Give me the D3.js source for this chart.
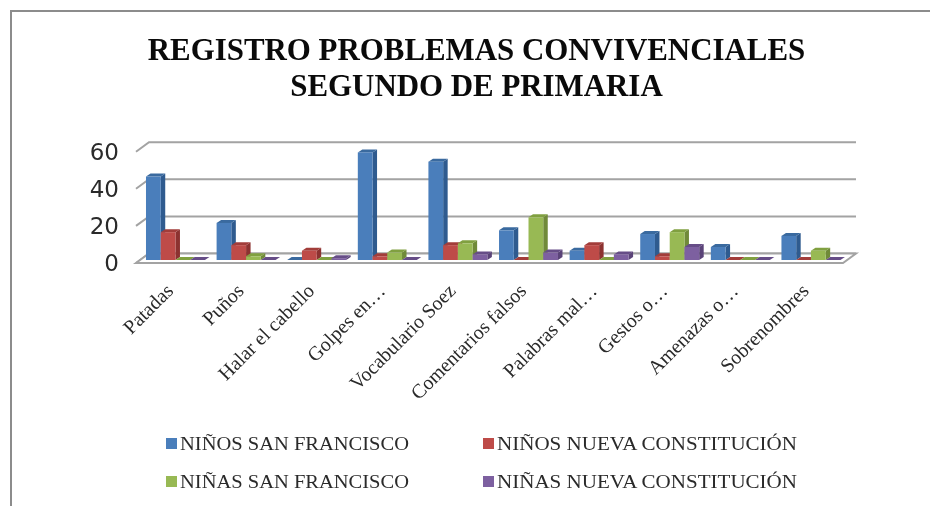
<!DOCTYPE html>
<html>
<head>
<meta charset="utf-8">
<script src="https://cdn.jsdelivr.net/npm/d3@7"></script>
<style>
    html, body { margin: 0; padding: 0; background: #fff; }
    svg { display: block; filter: blur(0.35px); }
</style>
</head>
<body>
<div id="chart"></div>
<script>
var categories = ["Patadas", "Puños", "Halar el cabello", "Golpes en…", "Vocabulario Soez",
    "Comentarios falsos", "Palabras mal…", "Gestos o…", "Amenazas o…", "Sobrenombres"];
var series_names = ["NIÑOS SAN FRANCISCO", "NIÑOS NUEVA CONSTITUCIÓN", "NIÑAS SAN FRANCISCO", "NIÑAS NUEVA CONSTITUCIÓN"];
var ninos_san_francisco = [45, 20, 0, 58, 53, 16, 5, 14, 7, 13];
var ninos_nueva_constitucion = [15, 8, 5, 2, 8, 0, 8, 2, 0, 0];
var ninas_san_francisco = [0, 2, 0, 4, 9, 23, 0, 15, 0, 5];
var ninas_nueva_constitucion = [0, 0, 1, 0, 3, 4, 3, 7, 0, 0];
var y_ticks = [0, 20, 40, 60];
var title_lines = ["REGISTRO PROBLEMAS CONVIVENCIALES", "SEGUNDO DE PRIMARIA"];

// front, side, top
var colors = [
    ["#4a7ebb", "#2f5b8f", "#3a6a9f"],
    ["#be4b48", "#8c3230", "#a23d3a"],
    ["#98b954", "#708a39", "#80a040"],
    ["#7d60a0", "#5a4378", "#664d87"]
];

var width = 930;
var height = 506;
var all_series = [ninos_san_francisco, ninos_nueva_constitucion, ninas_san_francisco, ninas_nueva_constitucion];

var svg = d3.select("#chart").append("svg")
    .attr("width", width)
    .attr("height", height);

// frame, only top and left are visible in the crop
svg.append("path")
    .attr("d", "M930,11H11V506")
    .attr("fill", "none")
    .attr("stroke", "#8c8c8c")
    .attr("stroke-width", 2);

svg.selectAll(".title").data(title_lines)
    .enter().append("text")
    .attr("class", "title")
    .attr("x", 476.5)
    .attr("y", function (d, i) { return 60 + i * 36; })
    .attr("text-anchor", "middle")
    .attr("font-family", "Liberation Serif")
    .attr("font-weight", "bold")
    .attr("font-size", 30.9)
    .attr("fill", "#0a0a0a")
    .text(function (d) { return d; });

// 3d offsets of the walls
var wall_dx = 13;
var wall_dy = 9.5;
var wall_left = 136;
var wall_right = 843;

var y_scale = d3.scaleLinear()
    .domain([0, 60])
    .range([263, 151.7]);
var x_scale = d3.scaleBand()
    .domain(categories)
    .range([140.2, 846.2])
    .paddingInner(0.165)
    .paddingOuter(0.082);
var bar_scale = d3.scaleBand()
    .domain(d3.range(4))
    .range([0, x_scale.bandwidth()]);

// gridlines on the back wall and the side wall
var grid = svg.append("g");
grid.selectAll(".grid").data(y_ticks)
    .enter().append("path")
    .attr("class", "grid")
    .attr("d", function (d) {
        var y = y_scale(d);
        return "M" + wall_left + "," + y + "L" + (wall_left + wall_dx) + "," + (y - wall_dy) + "H" + (wall_right + wall_dx);
    })
    .attr("fill", "none")
    .attr("stroke", "#a3a3a3")
    .attr("stroke-width", 2);

// floor
svg.append("path")
    .attr("d", "M" + wall_left + "," + y_scale(0) + "L" + (wall_left + wall_dx) + "," + (y_scale(0) - wall_dy) +
        "H" + (wall_right + wall_dx) + "L" + wall_right + "," + y_scale(0) + "Z")
    .attr("fill", "#fff")
    .attr("stroke", "#a3a3a3")
    .attr("stroke-width", 2);

var bar_dx = 4.5;
var bar_dy = 3;
var base_y = 260;
var bar_data = [];
for (var c = 0; c < categories.length; ++c) {
    // left to right so each front face covers the side of the bar before it
    for (var s = 0; s < 4; ++s) {
        bar_data.push({ "series": s, "category": categories[c], "value": all_series[s][c] });
    }
}

var bars = svg.selectAll(".bar").data(bar_data)
    .enter().append("g")
    .attr("class", "bar");

function bar_x(d) { return x_scale(d.category) + bar_scale(d.series); }
function bar_top(d) { return base_y - (y_scale(0) - y_scale(d.value)); }

bars.append("path")
    .attr("fill", function (d) { return colors[d.series][1]; })
    .attr("d", function (d) {
        var x = bar_x(d) + bar_scale.bandwidth();
        return "M" + x + "," + base_y + "V" + bar_top(d) + "l" + bar_dx + "," + (-bar_dy) + "V" + (base_y - bar_dy) + "Z";
    });
bars.append("path")
    .attr("fill", function (d) { return colors[d.series][2]; })
    .attr("d", function (d) {
        var x = bar_x(d);
        return "M" + x + "," + bar_top(d) + "l" + bar_dx + "," + (-bar_dy) + "h" + bar_scale.bandwidth() + "l" + (-bar_dx) + "," + bar_dy + "Z";
    });
bars.append("rect")
    .attr("fill", function (d) { return colors[d.series][0]; })
    .attr("x", bar_x)
    .attr("y", bar_top)
    .attr("width", bar_scale.bandwidth())
    .attr("height", function (d) { return base_y - bar_top(d); });

// y axis
var y_axis = d3.axisLeft(y_scale)
    .tickValues(y_ticks)
    .tickSize(0)
    .tickPadding(17);
var y_g = svg.append("g")
    .attr("transform", "translate(" + wall_left + ",0)")
    .call(y_axis);
y_g.select(".domain").remove();
y_g.selectAll("text")
    .attr("font-family", "DejaVu Sans")
    .attr("font-size", 23)
    .attr("fill", "#2a2a2a");

// x axis, labels are rotated and end under their group
var x_axis = d3.axisBottom(x_scale).tickSize(0).tickPadding(0);
var x_g = svg.append("g")
    .call(x_axis);
x_g.select(".domain").remove();
x_g.selectAll(".tick")
    .attr("transform", function (d) {
        return "translate(" + (x_scale(d) + x_scale.bandwidth() / 2 - 1) + ",292) rotate(-45)";
    });
x_g.selectAll("text")
    .attr("y", 0)
    .attr("dy", 0)
    .attr("text-anchor", "end")
    .attr("font-family", "Liberation Serif")
    .attr("font-size", 20)
    .attr("fill", "#2a2a2a");

// legend
var legend_x = [166, 483];
var legend_y = [443, 481];
var legend_text_length = [229, 300, 229, 300];
var legend = svg.selectAll(".legend").data(series_names)
    .enter().append("g")
    .attr("class", "legend")
    .attr("transform", function (d, i) { return "translate(" + legend_x[i % 2] + "," + legend_y[parseInt(i / 2)] + ")"; });
legend.append("rect")
    .attr("x", 0)
    .attr("y", -5)
    .attr("width", 11)
    .attr("height", 11)
    .attr("fill", function (d, i) { return colors[i][0]; });
legend.append("text")
    .attr("x", 14)
    .attr("y", 7)
    .attr("font-family", "Liberation Serif")
    .attr("font-size", 19)
    .attr("fill", "#2a2a2a")
    .attr("textLength", function (d, i) { return legend_text_length[i]; })
    .attr("lengthAdjust", "spacingAndGlyphs")
    .text(function (d) { return d; });
</script>
</body>
</html>
